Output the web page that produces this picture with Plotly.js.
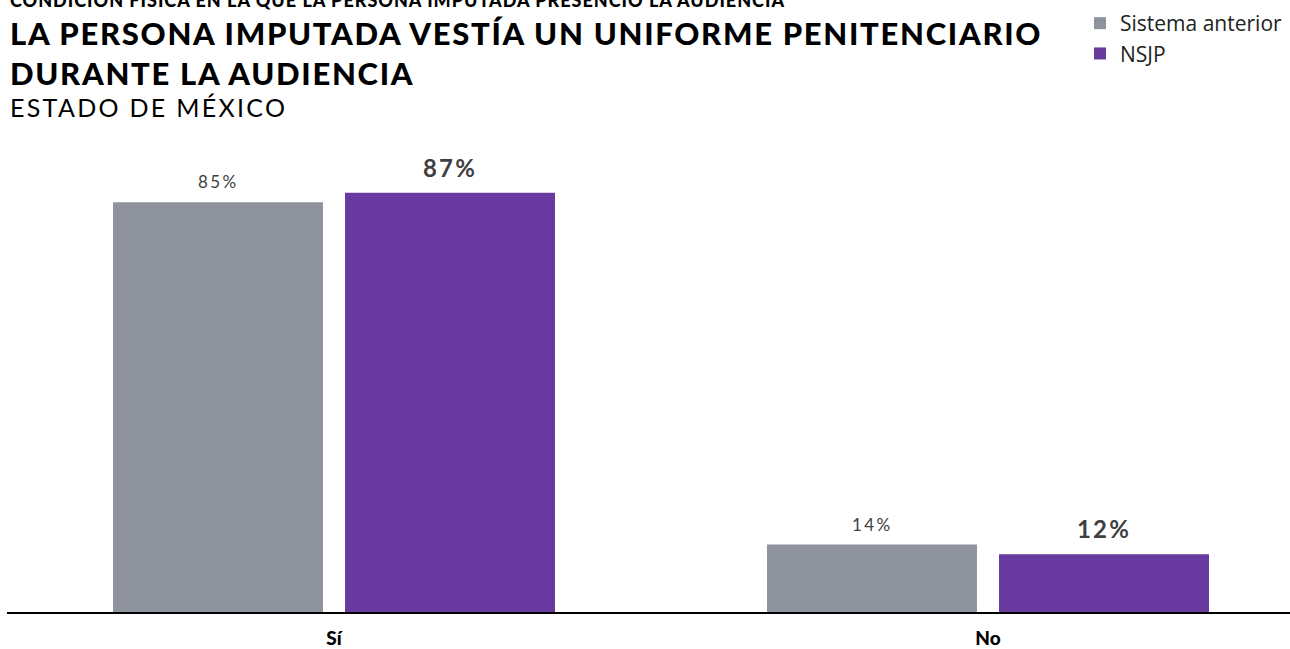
<!DOCTYPE html>
<html>
<head>
<meta charset="utf-8">
<script src="https://cdn.plot.ly/plotly-3.0.1.min.js"></script>
<style>
html,body{margin:0;padding:0;background:#fff;}
#chart{width:1290px;height:649px;}
</style>
</head>
<body>
<div id="chart"></div>
<script>
var categories = ["Sí", "No"];
var seriesNames = ["Sistema anterior", "NSJP"];
var sistemaAnterior = [85, 14];
var nsjp = [87, 12];
var supTitle = "CONDICIÓN FÍSICA EN LA QUE LA PERSONA IMPUTADA PRESENCIÓ LA AUDIENCIA";
var mainTitleLines = ["LA PERSONA IMPUTADA VESTÍA UN UNIFORME PENITENCIARIO", "DURANTE LA AUDIENCIA"];
var subTitle = "ESTADO DE MÉXICO";

var colors = ["#8E939E", "#68399E"];
var bargap = 0.2905, bargroupgap = 0.095;
var off = (1 - bargap) / 4;

var idx = categories.map(function(c, i){ return i; });

function spaced(t, px){ return '<span style="letter-spacing:' + px + 'px">' + t + '</span>'; }

var traces = [
  {type: "bar", name: seriesNames[0], x: idx, y: sistemaAnterior,
   marker: {color: colors[0]}, hoverinfo: "skip"},
  {type: "bar", name: seriesNames[1], x: idx, y: nsjp,
   marker: {color: colors[1]}, hoverinfo: "skip"}
];

var annotations = [];
sistemaAnterior.forEach(function(v, i){
  annotations.push({x: i - off, y: v, xref: "x", yref: "y", text: spaced(v + "%", 2.4), showarrow: false,
    yanchor: "bottom", yshift: 8, font: {family: "Lato", size: 17, color: "#404040"}});
});
nsjp.forEach(function(v, i){
  annotations.push({x: i + off, y: v, xref: "x", yref: "y", text: spaced(v + "%", 2.2), showarrow: false,
    yanchor: "bottom", yshift: 9, font: {family: "Lato", size: 24, color: "#404040", weight: 700}});
});

var T = 140, B = 612, H = B - T;
function py(p){ return (B - p) / H; }
annotations.push({xref: "paper", yref: "paper", x: 0, xshift: 1, y: py(13), xanchor: "left", yanchor: "bottom",
  text: spaced(supTitle, 1.0), showarrow: false, font: {family: "Lato", size: 18, color: "#000", weight: 900}});
annotations.push({xref: "paper", yref: "paper", x: 0, xshift: 1, y: py(12), xanchor: "left", yanchor: "top",
  align: "left", text: mainTitleLines.map(function(l){ return spaced(l, 1.7); }).join("<br>"), showarrow: false,
  font: {family: "Lato", size: 31, color: "#000", weight: 900}});
annotations.push({xref: "paper", yref: "paper", x: 0, xshift: 1, y: py(90), xanchor: "left", yanchor: "top",
  text: spaced(subTitle, 2.3), showarrow: false, font: {family: "Lato", size: 25, color: "#000", weight: 400}});

var layout = {
  width: 1290, height: 649,
  margin: {l: 7, r: 0, t: T, b: 649 - B, pad: 0},
  paper_bgcolor: "#fff", plot_bgcolor: "#fff",
  barmode: "group", bargap: bargap, bargroupgap: bargroupgap,
  showlegend: true,
  legend: {x: (1080 - 7) / 1283, y: py(3), xanchor: "left", yanchor: "top",
    font: {family: "Open Sans", size: 21, color: "#222"}, bgcolor: "rgba(0,0,0,0)",
    itemwidth: 30, tracegroupgap: 0},
  xaxis: {range: [-0.5, -0.5 + 1283 / 654], tickmode: "array", tickvals: idx, ticktext: categories,
    showline: true, linecolor: "#000", linewidth: 2, showgrid: false, zeroline: false,
    ticks: "", ticklabelstandoff: 8, automargin: false,
    tickfont: {family: "Lato", size: 19, color: "#000", weight: 900}, fixedrange: true},
  yaxis: {range: [0, H / 4.82], visible: false, showgrid: false, zeroline: false, fixedrange: true},
  annotations: annotations
};

Plotly.newPlot("chart", traces, layout, {displayModeBar: false, staticPlot: true});
</script>
</body>
</html>
